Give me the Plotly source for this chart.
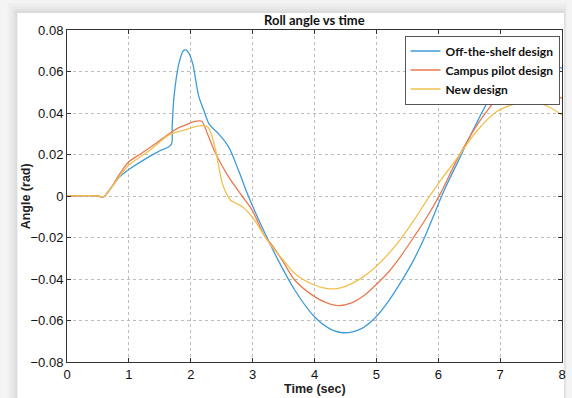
import plotly.graph_objects as go

# ---------------- data ----------------
t_offshelf = [0, 0.5, 0.58, 0.69, 0.85, 1.0, 1.33, 1.5, 1.68, 1.70, 1.73, 1.81, 1.88, 1.92, 1.97,
              2.03, 2.13, 2.21, 2.30, 2.45, 2.61, 2.77, 2.93, 3.15, 3.41, 3.68, 4.0, 4.25, 4.48,
              4.75, 4.97, 5.2, 5.42, 5.6, 5.8, 5.98, 6.1, 6.33, 6.59, 6.94, 7.2, 7.5, 7.75, 7.9, 8.0]
v_offshelf = [0, 0, -0.0006, 0.003, 0.0093, 0.0128, 0.019, 0.0218, 0.0246, 0.034, 0.048, 0.064, 0.070,
              0.0704, 0.0688, 0.064, 0.048, 0.0414, 0.0345, 0.030, 0.0238, 0.0125, 0.0, -0.0148,
              -0.0308, -0.0453, -0.0582, -0.0640, -0.0659, -0.0640, -0.059, -0.0505, -0.0403, -0.031,
              -0.0185, -0.0055, 0.003, 0.0173, 0.0334, 0.0527, 0.062, 0.0665, 0.0655, 0.063, 0.0615]

t_campus = [0, 0.5, 0.58, 0.69, 0.85, 1.0, 1.2, 1.44, 1.65, 1.8, 1.92, 2.05, 2.13, 2.18, 2.27, 2.40,
            2.61, 2.83, 2.99, 3.2, 3.31, 3.5, 3.68, 4.0, 4.2, 4.38, 4.6, 4.8, 4.99, 5.2, 5.39, 5.6,
            5.82, 6.05, 6.3, 6.6, 6.94, 7.21, 7.45, 7.74, 8.0]
v_campus = [0, 0, -0.0006, 0.003, 0.0105, 0.0165, 0.0205, 0.0254, 0.030, 0.0328, 0.0343, 0.0358,
            0.0362, 0.036, 0.030, 0.0206, 0.0093, 0.0, -0.0067, -0.0196, -0.0236, -0.032, -0.0405,
            -0.0485, -0.0515, -0.0528, -0.0515, -0.048, -0.0429, -0.0365, -0.0292, -0.020, -0.010,
            0.002, 0.0173, 0.033, 0.0463, 0.0511, 0.0535, 0.0514, 0.047]

t_new = [0, 0.5, 0.58, 0.69, 0.85, 1.0, 1.33, 1.65, 1.92, 2.13, 2.27, 2.33, 2.40, 2.51, 2.58, 2.64,
         2.73, 2.83, 2.99, 3.2, 3.31, 3.5, 3.68, 4.0, 4.27, 4.5, 4.75, 4.99, 5.34, 5.6, 5.82, 6.05,
         6.3, 6.6, 6.94, 7.2, 7.48, 7.75, 8.0]
v_new = [0, 0, -0.0006, 0.003, 0.0095, 0.0149, 0.0218, 0.0294, 0.0320, 0.0338, 0.0334, 0.030, 0.0222,
         0.0061, 0.001, -0.0019, -0.0035, -0.0051, -0.010, -0.0196, -0.0244, -0.031, -0.0373,
         -0.0429, -0.0448, -0.0435, -0.0397, -0.0341, -0.0228, -0.012, -0.0019, 0.008, 0.018,
         0.0305, 0.0406, 0.044, 0.0454, 0.0435, 0.039]

series_names = ["Off-the-shelf design", "Campus pilot design", "New design"]
x_tickvals = [0, 1, 2, 3, 4, 5, 6, 7, 8]
x_ticktext = ["0", "1", "2", "3", "4", "5", "6", "7", "8"]
y_tickvals = [-0.08, -0.06, -0.04, -0.02, 0, 0.02, 0.04, 0.06, 0.08]
y_ticktext = ["\u22120.08", "\u22120.06", "\u22120.04", "\u22120.02", "0", "0.02", "0.04", "0.06", "0.08"]

title_text = "Roll angle vs time"
x_title = "Time (sec)"
y_title = "Angle (rad)"

# ---------------- figure ----------------
colors = ["#3f9bd8", "#e87a52", "#f2c04e"]
fig = go.Figure()
for t, v, name, c in zip([t_offshelf, t_campus, t_new], [v_offshelf, v_campus, v_new],
                         series_names, colors):
    fig.add_trace(go.Scatter(x=t, y=v, mode="lines", name="<b>" + name + "</b>",
                             line=dict(color=c, width=1.3, shape="spline", smoothing=0.9)))

W, H = 572, 398
L, R, T, B = 67, 6, 30, 36
pw, ph = W - L - R, H - T - B


def px2x(px):
    return (px - L) / pw


def py2y(py):
    return (H - B - py) / ph


shapes = []
# soft shadow around the white figure area
for off, col in [(10, "#efefef"), (7, "#e9e9e9"), (4, "#e2e2e2"), (2, "#dbdbdb")]:
    shapes.append(dict(type="rect", xref="paper", yref="paper",
                       x0=px2x(17 - off), x1=px2x(568 + off * 0.3), y0=py2y(H + 5),
                       y1=py2y(13 - off), fillcolor=col, line=dict(width=0), layer="below"))
shapes.append(dict(type="rect", xref="paper", yref="paper",
                   x0=px2x(17), x1=px2x(568), y0=py2y(H + 5), y1=py2y(13),
                   fillcolor="white", line=dict(width=0), layer="below"))

axis_font = dict(family="Liberation Sans, Arial, sans-serif", size=13, color="#111")

fig.update_layout(
    width=W, height=H,
    margin=dict(l=L, r=R, t=T, b=B, pad=0),
    paper_bgcolor="#f4f4f4",
    plot_bgcolor="white",
    shapes=shapes,
    showlegend=True,
    legend=dict(x=px2x(563.5), xanchor="right", y=py2y(35.5), yanchor="top",
                bgcolor="white", bordercolor="#555", borderwidth=1,
                font=dict(family="Lato, sans-serif", size=12, color="#111"),
                tracegroupgap=0, itemwidth=30),
    xaxis=dict(range=[0, 8], tickvals=x_tickvals, ticktext=x_ticktext,
               showgrid=True, gridcolor="#bdbdbd", griddash="dot", gridwidth=1,
               zeroline=False, showline=True, linecolor="#333", linewidth=1,
               mirror="ticks", ticks="inside", ticklen=4, tickcolor="#333",
               tickfont=axis_font),
    yaxis=dict(range=[-0.08, 0.08], tickvals=y_tickvals, ticktext=y_ticktext,
               showgrid=True, gridcolor="#bdbdbd", griddash="dot", gridwidth=1,
               zeroline=False, showline=True, linecolor="#333", linewidth=1,
               mirror="ticks", ticks="inside", ticklen=4, tickcolor="#333",
               tickfont=axis_font),
    annotations=[
        dict(text="<b>" + title_text + "</b>", xref="paper", yref="paper",
             x=0.5, y=py2y(20), xanchor="center", yanchor="middle", showarrow=False,
             font=dict(family="Lato, sans-serif", size=13, color="#111")),
        dict(text="<b>" + x_title + "</b>", xref="paper", yref="paper",
             x=0.5, y=py2y(389), xanchor="center", yanchor="middle", showarrow=False,
             font=dict(family="Liberation Sans, Arial, sans-serif", size=12.5, color="#222")),
        dict(text="<b>" + y_title + "</b>", xref="paper", yref="paper",
             x=px2x(26), y=0.5, xanchor="center", yanchor="middle", showarrow=False,
             textangle=-90,
             font=dict(family="Liberation Sans, Arial, sans-serif", size=12.5, color="#222")),
    ],
)

fig.write_html("out.html", config={"displayModeBar": False},
               post_script="document.body.style.margin='0';document.body.style.overflow='hidden';")
